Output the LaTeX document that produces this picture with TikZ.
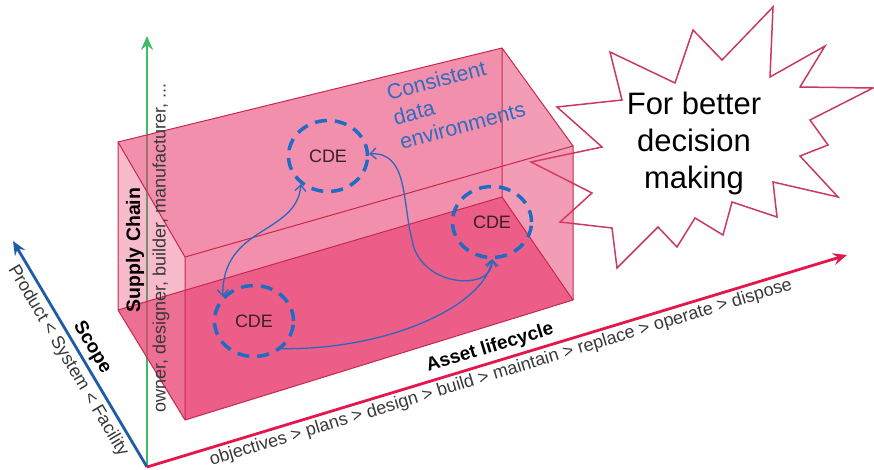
\documentclass[tikz,border=0pt]{standalone}
\usepackage{fontspec}
\setmainfont{Liberation Sans}
\usetikzlibrary{arrows.meta,shapes.geometric}
\definecolor{boxpink}{HTML}{E83C6E}
\definecolor{edgecol}{HTML}{C8284F}
\definecolor{starcol}{HTML}{C83A62}
\definecolor{cdeblue}{HTML}{1E6CC4}
\definecolor{linkblue}{HTML}{2A68BE}
\definecolor{txtblue}{HTML}{2F6DC0}
\definecolor{cdetext}{HTML}{3A2028}
\definecolor{lblgray}{HTML}{383838}
\definecolor{axgreen}{HTML}{3DBB67}
\definecolor{axblue}{HTML}{1F5CA8}
\definecolor{axred}{HTML}{E3174B}
\begin{document}
\begin{tikzpicture}[x=1pt,y=-1pt,
  barb/.tip={Straight Barb[length=6pt,width=11pt]},
  boxedge/.style={draw=edgecol, line width=1pt, line join=round},
  face/.style={fill=boxpink, fill opacity=#1},
  cde/.style={ellipse, draw=cdeblue, line width=3.5pt, dash pattern=on 12pt off 8pt,
    minimum width=79pt, minimum height=71pt, inner sep=0pt,
    font=\fontsize{18}{20}\selectfont, text=cdetext},
  link/.style={draw=linkblue, line width=1.3pt},
  axis/.style={line width=2.8pt, -{Stealth[length=14pt,width=12pt,inset=5pt]}},
  lbl/.style={font=\fontsize{18}{22}\selectfont, text=lblgray, inner sep=0pt},
  blbl/.style={font=\bfseries\fontsize{19}{22}\selectfont, text=black, inner sep=0pt},
]
\useasboundingbox (0,0) rectangle (874,470);

% star burst (behind the box)
\draw[draw=starcol, line width=1.5pt, fill=white, line join=miter]
  (557,107) -- (622,100) -- (610,52) -- (675,83) -- (693,30) -- (722,60) -- (773,7)
  -- (770,77) -- (825,46) -- (800,87) -- (873,88) -- (810,120) -- (828,145) -- (800,156)
  -- (838,197) -- (773,182) -- (777,217) -- (732,202) -- (723,235) -- (695,218)
  -- (677,247) -- (658,227) -- (617,268) -- (612,228) -- (560,222) -- (592,193)
  -- (531,162) -- (602,147) -- cycle;
\node[font=\fontsize{31}{37}\selectfont, align=center, inner sep=0pt] (better) at (694,143)
  {For better\\decision\\making};

% axes
\coordinate (O) at (147,467);
\coordinate (Ytip) at (147,36);
\coordinate (Stip) at (13,241);
\coordinate (Ltip) at (847,255);
\draw[axis, axgreen] (O) -- (Ytip);
\draw[axis, axblue] (O) -- (Stip);
\draw[axis, axred] (O) -- (Ltip);

% box vertices
\coordinate (A) at (118,142);
\coordinate (B) at (502,48);
\coordinate (C) at (502,197);
\coordinate (D) at (118,310);
\coordinate (E) at (185,257);
\coordinate (F) at (573,146);
\coordinate (G) at (573,300);
\coordinate (H) at (185,420);

% faces
\fill[face=0.2] (A) -- (B) -- (C) -- (D) -- cycle;
\fill[face=0.68] (D) -- (C) -- (G) -- (H) -- cycle;
\fill[face=0.19] (A) -- (E) -- (H) -- (D) -- cycle;
\fill[face=0.08] (B) -- (F) -- (G) -- (C) -- cycle;
\fill[face=0.4675] (A) -- (B) -- (F) -- (E) -- cycle;
\fill[face=0.4675] (E) -- (F) -- (G) -- (H) -- cycle;

% edges
\draw[boxedge] (A) -- (B) -- (C) -- (D) -- cycle;
\draw[boxedge] (E) -- (F) -- (G) -- (H) -- cycle;
\draw[boxedge] (A) -- (E) (B) -- (F) (C) -- (G) (D) -- (H);

% axis labels
\node[blbl, rotate=90, font=\bfseries\fontsize{19.5}{22}\selectfont] (sc) at (135,250) {Supply Chain};
\node[lbl, rotate=90] (own) at (161,248) {owner, designer, builder, manufacturer, ...};
\node[blbl, rotate=-59.3] (scope) at (92,348) {Scope};
\node[lbl, rotate=-59.3] (prod) at (68,361) {Product < System < Facility};
\node[blbl, rotate=16.9] (al) at (490,348) {Asset lifecycle};
\node[lbl, rotate=16.9] (obj) at (501,373)
  {objectives > plans > design > build > maintain > replace > operate > dispose};

% CDEs
\node[cde] (c1) at (328,156) {CDE};
\node[cde] (c2) at (492,222) {CDE};
\node[cde] (c3) at (254,321) {CDE};
\coordinate (m1) at (412,240);

\draw[link, barb-barb] (c1.226) .. controls (297,235) and (222,225) .. (c3.142);
\draw[link, barb-barb] (c1.3) .. controls (408,152) and (402,200) .. (m1)
  .. controls (420,288) and (494,292) .. (c2.south);
\draw[link, -barb] (c3.-45) .. controls (390,350) and (485,305) .. (c2.south);

\node[rotate=15, align=left, text=txtblue, font=\fontsize{21.5}{25}\selectfont, inner sep=0pt]
  (cons) at (456,101) {Consistent\\data\\environments};
\end{tikzpicture}
\end{document}
